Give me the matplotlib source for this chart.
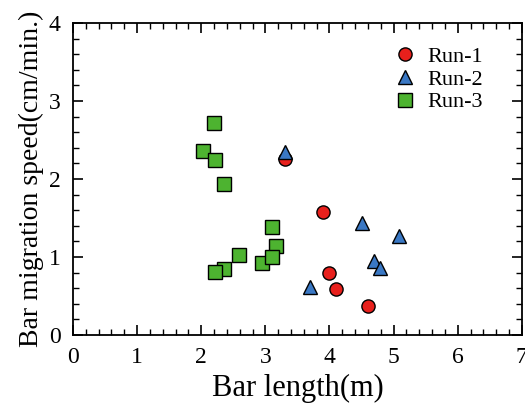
import matplotlib
matplotlib.use("Agg")
from matplotlib import pyplot as plt
from matplotlib.ticker import MultipleLocator

# Run data: bar length (m) vs bar migration speed (cm/min.)
run1_x = [3.30, 3.90, 3.99, 4.10, 4.60]
run1_y = [2.25, 1.58, 0.80, 0.59, 0.37]

run2_x = [3.30, 3.70, 4.50, 4.69, 4.79, 5.09]
run2_y = [2.35, 0.61, 1.44, 0.95, 0.86, 1.27]

run3_x = [2.20, 2.03, 2.22, 2.35, 3.10, 3.16, 2.59, 2.95, 3.10, 2.35, 2.21]
run3_y = [2.72, 2.36, 2.24, 1.93, 1.38, 1.14, 1.03, 0.92, 1.00, 0.85, 0.81]

plt.rcParams['font.family'] = ['Liberation Serif', 'DejaVu Serif']

fig = plt.figure(figsize=(5.25, 4.03), dpi=100)
ax = fig.add_axes([0.139, 0.169, 0.855, 0.774])

# Squares first, then circles, then triangles on top
ax.plot(run3_x, run3_y, 's', color='#4db330', markeredgecolor='black',
        markeredgewidth=1.0, markersize=9.5, label='Run-3', zorder=3)
ax.plot(run1_x, run1_y, 'o', color='#e8201c', markeredgecolor='black',
        markeredgewidth=1.0, markersize=9.5, label='Run-1', zorder=4)
ax.plot(run2_x, run2_y, '^', color='#3a78c4', markeredgecolor='black',
        markeredgewidth=1.0, markersize=10, label='Run-2', zorder=5)

ax.set_xlim(0, 7)
ax.set_ylim(0, 4)
ax.xaxis.set_major_locator(MultipleLocator(1))
ax.xaxis.set_minor_locator(MultipleLocator(0.2))
ax.yaxis.set_major_locator(MultipleLocator(1))
ax.yaxis.set_minor_locator(MultipleLocator(0.2))
ax.tick_params(which='both', direction='in', top=True, right=True, labelsize=17)
ax.tick_params(which='major', length=7, width=1.2)
ax.tick_params(which='minor', length=4, width=1.0)
ax.tick_params(axis='x', which='major', pad=9)
ax.tick_params(axis='y', which='major', pad=9)
for s in ax.spines.values():
    s.set_linewidth(1.3)

ax.set_xlabel('Bar length(m)', fontsize=22, labelpad=4)
ax.set_ylabel('Bar migration speed(cm/min.)', fontsize=20, labelpad=3)

handles, labels = ax.get_legend_handles_labels()
order = [1, 2, 0]
ax.legend([handles[i] for i in order], [labels[i] for i in order],
          loc='upper right', frameon=False, fontsize=16, handlelength=1.0,
          handletextpad=0.5, labelspacing=0.1, borderaxespad=0.3,
          bbox_to_anchor=(0.947, 0.975))

fig.savefig('out.png', dpi=100)
